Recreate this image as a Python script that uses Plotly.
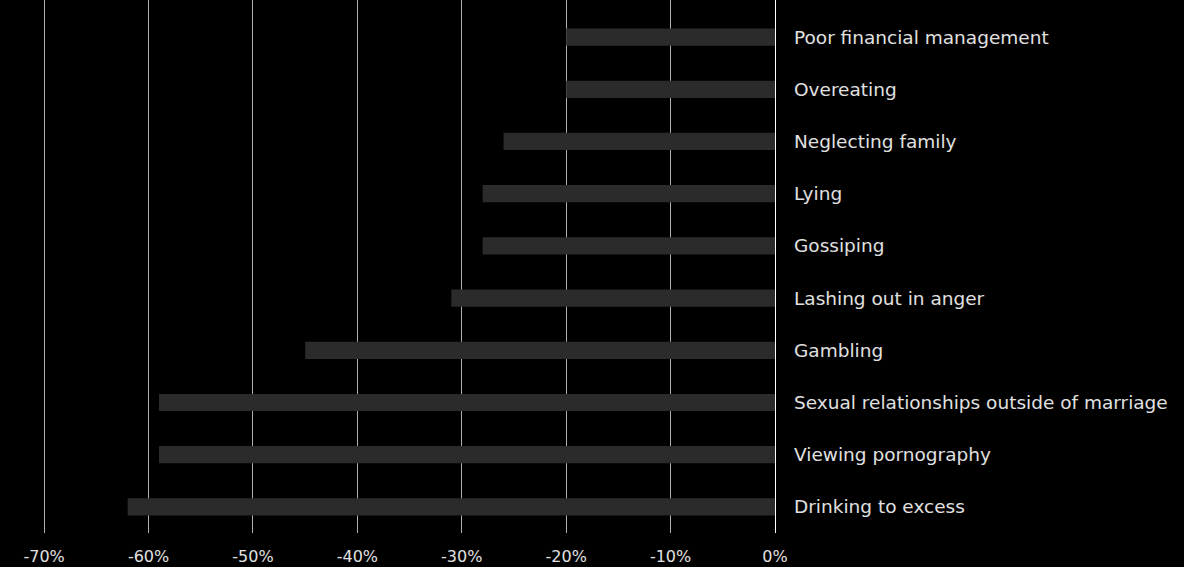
import plotly.graph_objects as go

categories = [
    "Drinking to excess",
    "Viewing pornography",
    "Sexual relationships outside of marriage",
    "Gambling",
    "Lashing out in anger",
    "Gossiping",
    "Lying",
    "Neglecting family",
    "Overeating",
    "Poor financial management",
]
values = [-62, -59, -59, -45, -31, -28, -28, -26, -20, -20]
tick_vals = [-70, -60, -50, -40, -30, -20, -10, 0]
tick_text = ["-70%", "-60%", "-50%", "-40%", "-30%", "-20%", "-10%", "0%"]

fig = go.Figure(go.Bar(
    x=values, y=categories, orientation="h",
    marker=dict(color="#2b2b2b", line=dict(width=0)),
    width=0.33,
))

fig.update_layout(
    width=1184, height=567,
    paper_bgcolor="#000000", plot_bgcolor="#000000",
    margin=dict(l=10, r=409, t=0, b=34),
    font=dict(family="DejaVu Sans, Verdana, sans-serif", color="#e0e0e0", size=18.5),
    showlegend=False,
    xaxis=dict(
        range=[-73.27, 0], tickvals=tick_vals, ticktext=tick_text,
        showgrid=True, gridcolor="#b0b0b0", gridwidth=1,
        zeroline=True, zerolinecolor="#ffffff", zerolinewidth=1,
        tickfont=dict(size=16), showline=False, fixedrange=True,
        ticklabelstandoff=12,
    ),
    yaxis=dict(
        side="right", range=[-0.5, 9.71], showgrid=False, zeroline=False,
        ticklabelstandoff=18, tickfont=dict(size=18.5), showline=False,
        fixedrange=True,
    ),
)

fig.write_html(
    "out.html",
    config={"displayModeBar": False},
    post_script="document.body.style.margin='0';document.body.style.background='#000';",
)
